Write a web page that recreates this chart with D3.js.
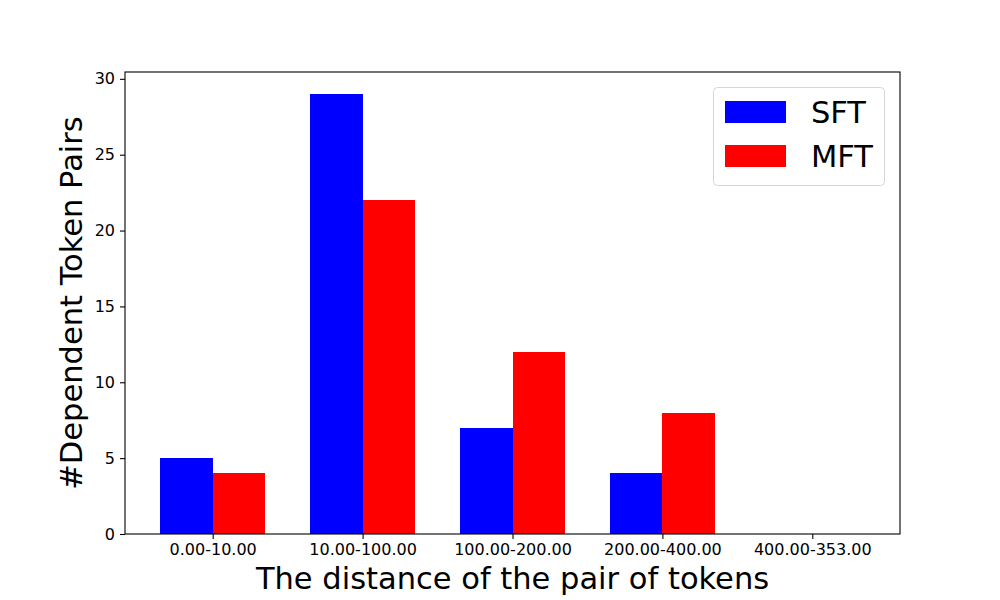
<!DOCTYPE html>
<html>
<head>
<meta charset="utf-8">
<script src="https://cdn.jsdelivr.net/npm/d3@7"></script>
<style>
  body { margin: 0; background: #fff; }
  text { font-family: "DejaVu Sans", sans-serif; fill: #000; }
</style>
</head>
<body>
<svg width="1000" height="600"></svg>
<script>
// data
var categories = ["0.00-10.00", "10.00-100.00", "100.00-200.00", "200.00-400.00", "400.00-353.00"];
var sftValues = [5, 29, 7, 4, 0];
var mftValues = [4, 22, 12, 8, 0];
var yTicks = [0, 5, 10, 15, 20, 25, 30];
var seriesNames = ["SFT", "MFT"];
var seriesColors = ["#0000ff", "#ff0000"];

var svg = d3.select("svg");
var plotLeft = 125, plotRight = 900, plotTop = 72, plotBottom = 534;
var barW = 0.35;

// matplotlib style: bars span -0.35..n-1+0.35, plus 5% margin
var span = (categories.length - 1) + 2 * barW;
var x = d3.scaleLinear()
    .domain([-barW - span * 0.05, categories.length - 1 + barW + span * 0.05])
    .range([plotLeft, plotRight]);

var ymax = d3.max(sftValues.concat(mftValues)) * 1.05;
var y = d3.scaleLinear().domain([0, ymax]).range([plotBottom, plotTop]);

var g = svg.append("g");

// bars
[sftValues, mftValues].forEach(function(vals, s) {
  g.selectAll(".bar" + s)
    .data(vals)
    .enter().append("rect")
    .attr("class", "bar" + s)
    .attr("x", function(d, i) { return x(s === 0 ? i - barW : i); })
    .attr("width", function() { return x(barW) - x(0); })
    .attr("y", function(d) { return y(d); })
    .attr("height", function(d) { return y(0) - y(d); })
    .attr("fill", seriesColors[s])
    .attr("shape-rendering", "crispEdges");
});

// axes
var xAxis = d3.axisBottom(x)
    .tickValues(d3.range(categories.length))
    .tickFormat(function(d) { return categories[d]; })
    .tickSize(5).tickPadding(5).tickSizeOuter(0);
var yAxis = d3.axisLeft(y)
    .tickValues(yTicks)
    .tickSize(5).tickPadding(5).tickSizeOuter(0);

var gx = svg.append("g").attr("transform", "translate(0," + plotBottom + ")").call(xAxis);
var gy = svg.append("g").attr("transform", "translate(" + plotLeft + ",0)").call(yAxis);
[gx, gy].forEach(function(a) {
  a.attr("font-family", null).attr("font-size", null);
  a.select(".domain").remove();
  a.selectAll("line").attr("stroke", "#000").attr("stroke-width", 1.1);
  a.selectAll("text").style("font-size", "16px").attr("fill", "#000");
});

// frame
svg.append("rect")
    .attr("x", plotLeft).attr("y", plotTop)
    .attr("width", plotRight - plotLeft).attr("height", plotBottom - plotTop)
    .attr("fill", "none").attr("stroke", "#000").attr("stroke-width", 1.1);

// axis labels
svg.append("text")
    .attr("x", (plotLeft + plotRight) / 2).attr("y", 589)
    .attr("text-anchor", "middle")
    .style("font-size", "30.5px")
    .text("The distance of the pair of tokens");

svg.append("text")
    .attr("transform", "translate(82," + (plotTop + plotBottom) / 2 + ") rotate(-90)")
    .attr("text-anchor", "middle")
    .style("font-size", "30.5px")
    .text("#Dependent Token Pairs");

// legend
var lg = svg.append("g");
lg.append("rect")
    .attr("x", 713.5).attr("y", 87.5).attr("width", 171).attr("height", 98)
    .attr("rx", 4).attr("fill", "#fff").attr("fill-opacity", 0.8)
    .attr("stroke", "#d6d6d6").attr("stroke-width", 1);
seriesNames.forEach(function(name, i) {
  lg.append("rect")
    .attr("x", 725).attr("y", 101 + i * 44).attr("width", 61).attr("height", 22)
    .attr("fill", seriesColors[i]);
  lg.append("text")
    .attr("x", 811).attr("y", 123 + i * 44)
    .style("font-size", "30.5px")
    .text(name);
});
</script>
</body>
</html>
